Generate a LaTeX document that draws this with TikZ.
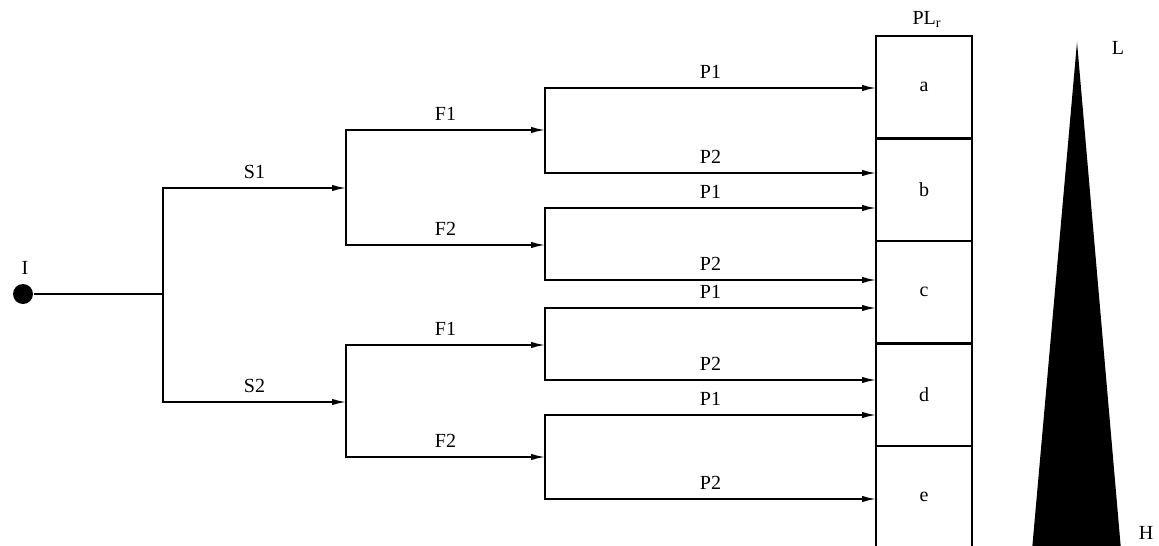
\documentclass[tikz,border=0pt]{standalone}
\usepackage{fontspec}
\setmainfont{Liberation Serif}
\usetikzlibrary{arrows.meta,positioning}

\begin{document}
\begin{tikzpicture}[
    x=0.5pt, y=-0.5pt,
    line width=0.8pt,
    font=\normalsize,
    arr/.style={-{Latex[length=7pt,width=3.2pt]}},
    lbl/.style={above, inner sep=0pt, yshift=4.5pt},
    cell/.style={draw, line width=1.2pt, minimum width=48pt, minimum height=51.25pt, outer sep=0pt, inner sep=0pt},
    dot/.style={circle, fill, minimum size=10pt, inner sep=0pt},
]
\clip (0,0) rectangle (1159,545);

% start point and branch points
\node[dot] (start) at (23,294) {};
\node (lI) at (25,268) {I};
\coordinate (root) at (163,294);
\coordinate (k1) at (346,188);
\coordinate (k2) at (346,402);
\coordinate (m1) at (545,130);
\coordinate (m2) at (545,245);
\coordinate (m3) at (545,345);
\coordinate (m4) at (545,457);
\coordinate (p1) at (545,88);
\coordinate (p2) at (545,173);
\coordinate (p3) at (545,208);
\coordinate (p4) at (545,280);
\coordinate (p5) at (545,308);
\coordinate (p6) at (545,380);
\coordinate (p7) at (545,415);
\coordinate (p8) at (545,499);

% result column
\node[cell, anchor=north west] (a) at (876,36) {a};
\node[cell, below=0pt of a] (b) {b};
\node[cell, below=0pt of b] (c) {c};
\node[cell, below=0pt of c] (d) {d};
\node[cell, below=0pt of d] (e) {e};
\node[anchor=base] (plr) at (927,25) {PL\textsubscript{r}};

% level wedge
\fill (1077,42) -- (1032,550) -- (1121,550) -- cycle;
\node (lL) at (1118,48) {L};
\node (lH) at (1146,533) {H};

\draw (start) -- (root);
\draw[arr] (root) |- (k1) node[lbl, pos=0.75] {S1};
\draw[arr] (root) |- (k2) node[lbl, pos=0.75] {S2};

\draw[arr] (k1) |- (m1) node[lbl, pos=0.75] {F1};
\draw[arr] (k1) |- (m2) node[lbl, pos=0.75] {F2};
\draw[arr] (k2) |- (m3) node[lbl, pos=0.75] {F1};
\draw[arr] (k2) |- (m4) node[lbl, pos=0.75] {F2};

\draw[arr] (m1) |- (p1 -| a.west) node[lbl, pos=0.75] {P1};
\draw[arr] (m1) |- (p2 -| a.west) node[lbl, pos=0.75] {P2};
\draw[arr] (m2) |- (p3 -| a.west) node[lbl, pos=0.75] {P1};
\draw[arr] (m2) |- (p4 -| a.west) node[lbl, pos=0.75] {P2};
\draw[arr] (m3) |- (p5 -| a.west) node[lbl, pos=0.75] {P1};
\draw[arr] (m3) |- (p6 -| a.west) node[lbl, pos=0.75] {P2};
\draw[arr] (m4) |- (p7 -| a.west) node[lbl, pos=0.75] {P1};
\draw[arr] (m4) |- (p8 -| a.west) node[lbl, pos=0.75] {P2};
\end{tikzpicture}
\end{document}
